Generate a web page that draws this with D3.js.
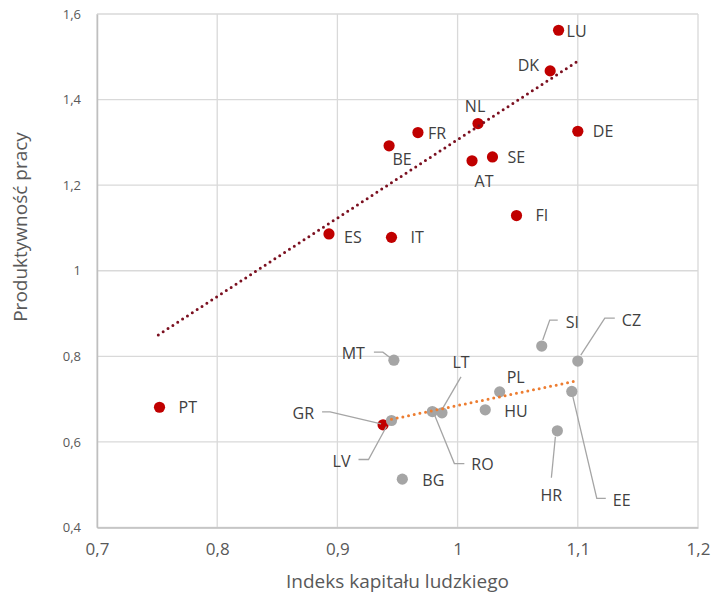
<!DOCTYPE html>
<html>
<head>
<meta charset="utf-8">
<script src="https://cdn.jsdelivr.net/npm/d3@7"></script>
<style>
  body { margin: 0; background: #fff; }
  text { font-family: "Open Sans", "Noto Sans", sans-serif; }
</style>
</head>
<body>
<svg id="chart" width="713" height="598"></svg>
<script>
// data
var redNames = ["LU", "DK", "NL", "FR", "DE", "BE", "SE", "AT", "FI", "IT", "ES", "PT", "GR"];
var redX = [1.084, 1.077, 1.017, 0.967, 1.100, 0.943, 1.029, 1.012, 1.049, 0.945, 0.893, 0.752, 0.938];
var redY = [1.562, 1.467, 1.344, 1.323, 1.326, 1.292, 1.266, 1.257, 1.129, 1.078, 1.086, 0.681, 0.640];

var grayNames = ["MT", "SI", "CZ", "PL", "EE", "HU", "LT", "RO", "LV", "HR", "BG"];
var grayX = [0.947, 1.070, 1.100, 1.035, 1.095, 1.023, 0.987, 0.979, 0.945, 1.083, 0.954];
var grayY = [0.791, 0.824, 0.789, 0.717, 0.718, 0.675, 0.668, 0.671, 0.650, 0.626, 0.513];

// trend line end points
var redTrendX = [0.751, 1.099];
var redTrendY = [0.850, 1.488];
var grayTrendX = [0.945, 1.098];
var grayTrendY = [0.653, 0.742];

var xTicks = [0.7, 0.8, 0.9, 1.0, 1.1, 1.2];
var yTicks = [0.4, 0.6, 0.8, 1.0, 1.2, 1.4, 1.6];

// label placement (px offsets from the point) and leader lines
var labelPos = {
    LU: [8, 1, "start"], DK: [-11, -6, "end"], NL: [-3, -17, "middle"], FR: [10, 1, "start"],
    DE: [15, 0, "start"], BE: [13, 13, "middle"], SE: [15, 0, "start"], AT: [12, 20, "middle"],
    FI: [19, 0, "start"], IT: [19, 0, "start"], ES: [15, 3, "start"], PT: [19, 0, "start"],
    GR: [-69, -12, "end"],
    MT: [-29, -7, "end"], SI: [24, -24, "start"], CZ: [44, -41, "start"], PL: [7, -15, "start"],
    EE: [41, 109, "start"], HU: [19, 1, "start"], LT: [19, -51, "middle"], RO: [39, 53, "start"],
    LV: [-41, 41, "end"], HR: [-6, 64, "middle"], BG: [20, 1, "start"]
};
var leaders = {
    GR: [[-61, -13], [-53, -13], [-2, -1]],
    MT: [[-20, -8], [-11, -8], [-3, -2]],
    SI: [[16, -26], [8, -26], [1, -6]],
    CZ: [[37, -43], [27, -43], [3, -6]],
    LT: [[19, -36], [1, -5]],
    LV: [[-33, 39], [-23, 39], [-5, 6]],
    RO: [[32, 52], [22, 52], [2, 3]],
    HR: [[-6, 47], [-2, 6]],
    EE: [[34, 107], [25, 107], [1, 5]]
};

var svg = d3.select("#chart");
var plotLeft = 97, plotRight = 698, plotTop = 14, plotBottom = 527.5;

var x = d3.scaleLinear().domain([0.7, 1.2]).range([plotLeft, plotRight]);
var y = d3.scaleLinear().domain([0.4, 1.6]).range([plotBottom, plotTop]);

var loc = d3.formatLocale({ decimal: ",", thousands: " ", grouping: [3], currency: ["", " zł"] });
var fmt = loc.format(".1~f");

// grid
svg.append("g").selectAll("line").data(xTicks).enter().append("line")
    .attr("x1", function (d) { return x(d); }).attr("x2", function (d) { return x(d); })
    .attr("y1", plotTop).attr("y2", plotBottom)
    .style("stroke", "#d9d9d9").style("stroke-width", 1.3);
svg.append("g").selectAll("line").data(yTicks).enter().append("line")
    .attr("x1", plotLeft).attr("x2", plotRight)
    .attr("y1", function (d) { return y(d); }).attr("y2", function (d) { return y(d); })
    .style("stroke", "#d9d9d9").style("stroke-width", 1.3);

// axes
var xAxis = svg.append("g").attr("transform", "translate(0," + plotBottom + ")")
    .call(d3.axisBottom(x).tickValues(xTicks).tickFormat(fmt).tickSize(0).tickPadding(15));
var yAxis = svg.append("g").attr("transform", "translate(" + plotLeft + ",0)")
    .call(d3.axisLeft(y).tickValues(yTicks).tickFormat(fmt).tickSize(0).tickPadding(16));
xAxis.select(".domain").style("stroke", "#bfbfbf").style("stroke-width", 1.5);
yAxis.select(".domain").style("stroke", "#bfbfbf").style("stroke-width", 1.5);
xAxis.selectAll("text").style("font-size", "17px").style("fill", "#595959")
    .style("font-family", "'Open Sans', sans-serif");
yAxis.selectAll("text").style("font-size", "13px").style("fill", "#595959")
    .style("font-family", "'Open Sans', sans-serif");

// axis titles
svg.append("text").attr("x", (plotLeft + plotRight) / 2).attr("y", 588)
    .attr("text-anchor", "middle").style("font-size", "19px").style("fill", "#595959")
    .text("Indeks kapitału ludzkiego");
svg.append("text").attr("transform", "translate(27,227) rotate(-90)")
    .attr("text-anchor", "middle").style("font-size", "19px").style("fill", "#595959")
    .text("Produktywność pracy");

// points
var redPts = redNames.map(function (n, i) { return { name: n, x: redX[i], y: redY[i] }; });
var grayPts = grayNames.map(function (n, i) { return { name: n, x: grayX[i], y: grayY[i] }; });

svg.append("g").selectAll("circle").data(redPts).enter().append("circle")
    .attr("cx", function (d) { return x(d.x); }).attr("cy", function (d) { return y(d.y); })
    .attr("r", 5.6).style("fill", "#c00000");
svg.append("g").selectAll("circle").data(grayPts).enter().append("circle")
    .attr("cx", function (d) { return x(d.x); }).attr("cy", function (d) { return y(d.y); })
    .attr("r", 5.6).style("fill", "#a5a5a5");

// leader lines
var allPts = redPts.concat(grayPts);
var line = d3.line();
allPts.forEach(function (p) {
    var l = leaders[p.name];
    if (!l) return;
    var px = x(p.x), py = y(p.y);
    svg.append("path")
        .attr("d", line(l.map(function (o) { return [px + o[0], py + o[1]]; })))
        .style("fill", "none").style("stroke", "#a5a5a5").style("stroke-width", 1.3);
});

// trend lines
function trend(xs, ys, color) {
    svg.append("path")
        .attr("d", line(xs.map(function (v, i) { return [x(v), y(ys[i])]; })))
        .style("fill", "none").style("stroke", color).style("stroke-width", 3)
        .style("stroke-linecap", "round").style("stroke-dasharray", "0 5.8");
}
trend(redTrendX, redTrendY, "#7b1020");
trend(grayTrendX, grayTrendY, "#ed7d31");

// data labels
svg.append("g").selectAll("text").data(allPts).enter().append("text")
    .attr("x", function (d) { return x(d.x) + labelPos[d.name][0]; })
    .attr("y", function (d) { return y(d.y) + labelPos[d.name][1]; })
    .attr("dy", "0.36em")
    .attr("text-anchor", function (d) { return labelPos[d.name][2]; })
    .style("font-size", "16px").style("fill", "#404040")
    .text(function (d) { return d.name; });
</script>
</body>
</html>
